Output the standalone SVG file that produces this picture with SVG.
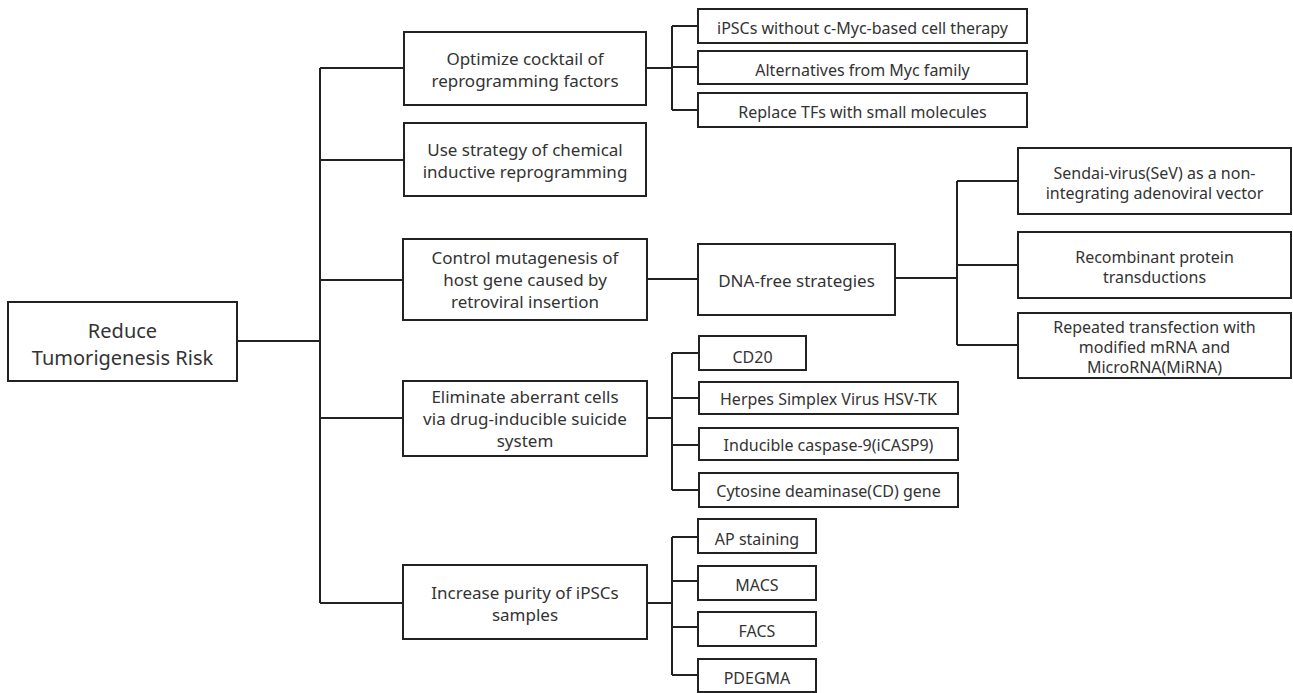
<svg xmlns="http://www.w3.org/2000/svg" width="1293" height="693" viewBox="0 0 1293 693">
<style>
rect{fill:#fff;stroke:#222;stroke-width:2}
.c path{fill:none;stroke:#222;stroke-width:2}
text{font-family:"Noto Sans","Open Sans","Liberation Sans",sans-serif;fill:#333;text-anchor:middle}
.r{font-size:20px}
.m{font-size:17px}
.s{font-size:16px}
</style>
<rect x="0" y="0" width="1293" height="693" style="fill:#fff;stroke:none"/>
<g class="c" id="connectors">
<path d="M237,341H320M320,68V603M320,68H404M320,160H404M320,280H403M320,418H403M320,603H403"/>
<path d="M646,68H672M672,26V110M672,26H698M672,67H698M672,110H698"/>
<path d="M647,279H698"/>
<path d="M895,278H957M957,181V345M957,181H1018M957,265H1018M957,345H1018"/>
<path d="M647,418H672M672,353V490M672,353H699M672,398H699M672,445H699M672,490H699"/>
<path d="M647,603H672M672,537V675M672,537H698M672,581H698M672,627H698M672,675H698"/>
</g>
<g id="root"><rect x="8" y="302" width="229" height="79"/><text class="r" x="122.5" y="338">Reduce</text><text class="r" x="122.5" y="365">Tumorigenesis Risk</text></g>
<g id="optimize"><rect x="404" y="32" width="242" height="73"/><text class="m" x="525" y="65">Optimize cocktail of</text><text class="m" x="525" y="87">reprogramming factors</text></g>
<g id="chemical"><rect x="404" y="123" width="242" height="73"/><text class="m" x="525" y="156">Use strategy of chemical</text><text class="m" x="525" y="178">inductive reprogramming</text></g>
<g id="control"><rect x="403" y="239" width="244" height="81"/><text class="m" x="525" y="264">Control mutagenesis of</text><text class="m" x="525" y="286">host gene caused by</text><text class="m" x="525" y="308">retroviral insertion</text></g>
<g id="dnafree"><rect x="698" y="244" width="197" height="71"/><text class="m" x="796.5" y="287">DNA-free strategies</text></g>
<g id="eliminate"><rect x="403" y="381" width="244" height="75"/><text class="m" x="525" y="403">Eliminate aberrant cells</text><text class="m" x="525" y="425">via drug-inducible suicide</text><text class="m" x="525" y="447">system</text></g>
<g id="purity"><rect x="403" y="565" width="244" height="74"/><text class="m" x="525" y="599">Increase purity of iPSCs</text><text class="m" x="525" y="621">samples</text></g>
<g id="ipscs"><rect x="698" y="9" width="329" height="34"/><text class="s" x="862.5" y="34">iPSCs without c-Myc-based cell therapy</text></g>
<g id="myc"><rect x="698" y="51" width="329" height="33"/><text class="s" x="862.5" y="76">Alternatives from Myc family</text></g>
<g id="replace"><rect x="698" y="93" width="329" height="34"/><text class="s" x="862.5" y="118">Replace TFs with small molecules</text></g>
<g id="sendai"><rect x="1018" y="148" width="273" height="66"/><text class="s" x="1154.5" y="179">Sendai-virus(SeV) as a non-</text><text class="s" x="1154.5" y="199">integrating adenoviral vector</text></g>
<g id="recombinant"><rect x="1018" y="232" width="273" height="66"/><text class="s" x="1154.5" y="263">Recombinant protein</text><text class="s" x="1154.5" y="283">transductions</text></g>
<g id="repeated"><rect x="1018" y="313" width="273" height="65"/><text class="s" x="1154.5" y="333">Repeated transfection with</text><text class="s" x="1154.5" y="353">modified mRNA and</text><text class="s" x="1154.5" y="373">MicroRNA(MiRNA)</text></g>
<g id="cd20"><rect x="699" y="336" width="107" height="34"/><text class="s" x="752.5" y="363">CD20</text></g>
<g id="herpes"><rect x="699" y="382" width="259" height="32"/><text class="s" x="828.5" y="405">Herpes Simplex Virus HSV-TK</text></g>
<g id="icasp9"><rect x="699" y="428" width="259" height="32"/><text class="s" x="828.5" y="451">Inducible caspase-9(iCASP9)</text></g>
<g id="cytosine"><rect x="699" y="473" width="259" height="34"/><text class="s" x="828.5" y="497">Cytosine deaminase(CD) gene</text></g>
<g id="ap"><rect x="698" y="519" width="118" height="34"/><text class="s" x="757" y="545">AP staining</text></g>
<g id="macs"><rect x="698" y="566" width="118" height="34"/><text class="s" x="757" y="591">MACS</text></g>
<g id="facs"><rect x="698" y="612" width="118" height="34"/><text class="s" x="757" y="637">FACS</text></g>
<g id="pdegma"><rect x="698" y="659" width="118" height="33"/><text class="s" x="757" y="684">PDEGMA</text></g>
</svg>
